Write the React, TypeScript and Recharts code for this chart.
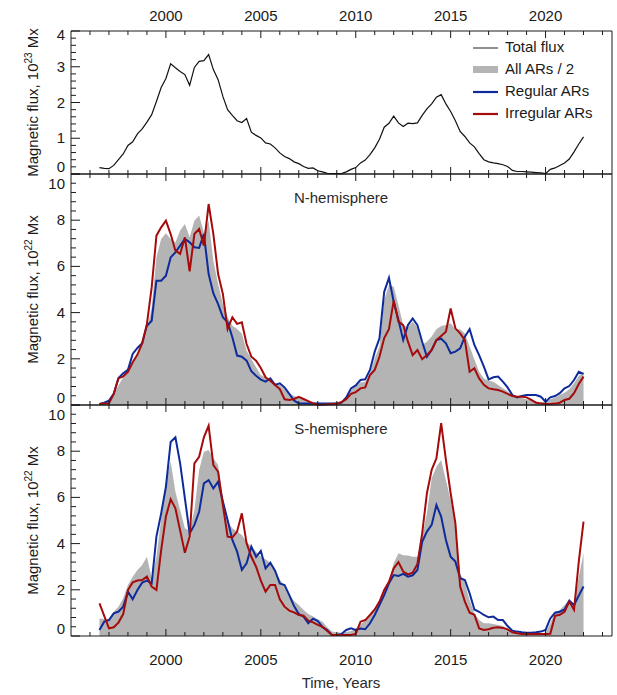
import React from "react";
import { ComposedChart, Line, Area, XAxis, YAxis, Legend } from "recharts";

const FONT = '"Liberation Sans", Arial, Helvetica, sans-serif';
const INK = "#1a1a1a";
const BLUE = "#0d2b9b";
const RED = "#a50b0b";
const GRAY = "#b4b4b4";

// all series sampled quarterly, 1996.5 .. 2022.0 (103 points)
const START_YEAR = 1996.5;
const STEP = 0.25;

// top panel, 10^23 Mx
const totalFlux = [
  0.18, 0.16, 0.15, 0.24, 0.40, 0.56,
  0.80, 0.90, 1.12, 1.26, 1.45, 1.66, 2.03, 2.42,
  2.67, 3.08, 2.97, 2.87, 2.78, 2.48, 2.98, 3.15,
  3.17, 3.34, 2.92, 2.64, 2.17, 1.80, 1.64, 1.49,
  1.44, 1.55, 1.17, 1.08, 1.01, 0.87, 0.84, 0.73,
  0.59, 0.49, 0.43, 0.34, 0.29, 0.21, 0.16, 0.17,
  0.09, 0.06, 0.02, 0.01, 0.01, 0.01, 0.06, 0.13,
  0.18, 0.31, 0.39, 0.54, 0.73, 0.97, 1.31, 1.42,
  1.62, 1.43, 1.33, 1.42, 1.41, 1.43, 1.64, 1.82,
  1.96, 2.15, 2.22, 1.96, 1.75, 1.49, 1.19, 1.05,
  0.87, 0.76, 0.57, 0.40, 0.34, 0.31, 0.29, 0.26,
  0.21, 0.10, 0.07, 0.07, 0.06, 0.05, 0.04, 0.03,
  0.01, 0.13, 0.17, 0.24, 0.31, 0.42, 0.62, 0.84,
  1.04,
];

// N-hemisphere, 10^22 Mx
const northAll = [
  0.04, 0.07, 0.14, 0.48, 0.84, 1.20,
  1.41, 1.85, 2.21, 2.57, 3.22, 4.23, 6.39, 7.19,
  7.43, 7.19, 7.04, 7.55, 7.84, 7.26, 7.98, 8.20,
  7.47, 7.98, 6.25, 5.24, 4.37, 3.80, 3.43, 3.29,
  3.10, 2.35, 1.99, 1.63, 1.30, 1.20, 1.08, 0.94,
  0.87, 0.68, 0.51, 0.39, 0.33, 0.25, 0.17, 0.13,
  0.10, 0.09, 0.07, 0.07, 0.07, 0.13, 0.33, 0.65,
  0.82, 0.97, 1.01, 1.37, 2.02, 2.53, 4.55, 5.19,
  5.12, 4.33, 3.46, 3.36, 3.61, 3.36, 2.60, 2.74,
  2.96, 3.28, 3.42, 3.46, 3.54, 3.28, 3.28, 3.10,
  2.53, 1.98, 1.44, 1.15, 1.05, 1.01, 0.87, 0.72,
  0.58, 0.43, 0.36, 0.30, 0.25, 0.22, 0.16, 0.12,
  0.13, 0.25, 0.33, 0.43, 0.53, 0.68, 0.94, 1.26,
  1.44,
];

const northRegular = [
  0.04, 0.10, 0.19, 0.48, 1.17, 1.37,
  1.52, 2.21, 2.47, 2.67, 3.43, 3.65, 5.38, 5.38,
  5.60, 6.39, 6.61, 6.90, 7.19, 7.04, 6.83, 6.80,
  7.40, 5.67, 4.83, 4.37, 3.80, 3.58, 2.93, 2.14,
  2.09, 1.92, 1.46, 1.27, 1.10, 1.01, 1.15, 0.87,
  0.94, 0.76, 0.48, 0.19, 0.07, 0.07, 0.06, 0.06,
  0.06, 0.07, 0.07, 0.07, 0.06, 0.10, 0.33, 0.72,
  0.85, 1.08, 1.11, 1.52, 2.31, 2.89, 4.90, 5.50,
  4.47, 3.68, 2.81, 3.46, 3.75, 3.46, 2.74, 2.09,
  2.38, 2.81, 2.87, 2.67, 2.24, 2.31, 2.45, 2.96,
  3.28, 2.60, 2.16, 1.66, 1.11, 1.20, 1.23, 1.01,
  0.76, 0.43, 0.33, 0.39, 0.43, 0.43, 0.43, 0.36,
  0.14, 0.33, 0.39, 0.51, 0.72, 0.82, 1.08, 1.44,
  1.35,
];

const northIrregular = [
  0.04, 0.06, 0.07, 0.48, 1.15, 1.24,
  1.43, 1.85, 2.18, 2.67, 3.51, 5.09, 7.33, 7.69,
  7.98, 7.40, 6.68, 6.54, 7.26, 5.79, 7.40, 7.62,
  6.90, 8.70, 7.40, 5.67, 4.81, 3.29, 3.80, 3.51,
  3.58, 2.64, 2.09, 1.92, 1.60, 1.20, 1.05, 0.87,
  0.69, 0.25, 0.22, 0.26, 0.35, 0.26, 0.17, 0.07,
  0.01, 0.01, 0.03, 0.04, 0.06, 0.13, 0.25, 0.48,
  0.56, 0.72, 0.76, 1.30, 1.52, 2.09, 2.90, 3.28,
  4.52, 3.61, 3.46, 2.74, 2.16, 2.38, 1.98, 2.16,
  2.38, 2.81, 2.99, 3.17, 4.18, 3.32, 3.10, 2.81,
  1.44, 1.59, 1.15, 0.87, 0.72, 0.68, 0.65, 0.58,
  0.48, 0.39, 0.36, 0.36, 0.33, 0.22, 0.10, 0.07,
  0.04, 0.04, 0.06, 0.10, 0.22, 0.27, 0.51, 0.91,
  1.23,
];

// S-hemisphere, 10^22 Mx
const southAll = [
  0.76, 0.74, 0.72, 1.05, 1.27, 1.63,
  2.21, 2.57, 2.86, 3.07, 3.43, 2.50, 3.43, 5.09,
  6.68, 7.55, 6.25, 5.45, 4.66, 4.56, 5.45, 7.19,
  7.98, 8.05, 7.69, 7.40, 6.03, 4.95, 4.66, 4.52,
  4.37, 4.08, 3.87, 3.65, 3.43, 3.32, 3.17, 2.79,
  2.45, 2.14, 1.77, 1.52, 1.34, 1.13, 0.95, 0.84,
  0.72, 0.62, 0.38, 0.20, 0.16, 0.14, 0.17, 0.22,
  0.32, 0.51, 0.66, 0.84, 1.13, 1.49, 1.92, 2.35,
  3.15, 3.58, 3.50, 3.48, 3.43, 3.43, 4.30, 5.31,
  6.83, 7.33, 7.62, 6.75, 5.89, 4.81, 2.71, 2.28,
  1.56, 0.98, 0.69, 0.55, 0.55, 0.52, 0.48, 0.43,
  0.33, 0.19, 0.14, 0.12, 0.12, 0.12, 0.12, 0.12,
  0.14, 0.55, 1.05, 1.13, 1.34, 1.56, 1.27, 2.57,
  3.58,
];

const southRegular = [
  0.26, 0.62, 0.69, 0.98, 1.05, 1.27,
  1.92, 1.59, 1.99, 2.31, 2.40, 2.28, 4.30, 5.31,
  6.46, 8.40, 8.60, 7.47, 5.96, 4.44, 4.81, 5.38,
  6.61, 6.75, 6.39, 6.68, 5.82, 5.02, 4.16, 3.65,
  2.86, 3.15, 3.87, 3.43, 3.68, 2.93, 3.17, 2.83,
  2.28, 2.21, 1.77, 1.30, 0.95, 0.84, 0.55, 0.75,
  0.65, 0.38, 0.26, 0.04, 0.04, 0.09, 0.26, 0.33,
  0.26, 0.32, 0.29, 0.55, 0.91, 1.34, 1.77, 2.28,
  2.64, 2.60, 2.69, 2.57, 2.63, 2.86, 4.08, 4.52,
  4.81, 5.67, 5.17, 4.16, 3.43, 3.22, 2.50, 2.42,
  1.85, 1.15, 1.05, 0.91, 0.81, 0.84, 0.69, 0.69,
  0.43, 0.23, 0.19, 0.16, 0.14, 0.14, 0.16, 0.19,
  0.26, 0.76, 1.01, 1.05, 1.15, 1.53, 1.34, 1.75,
  2.14,
];

const southIrregular = [
  1.41, 0.87, 0.33, 0.38, 0.58, 0.95,
  1.99, 2.32, 2.40, 2.42, 2.57, 2.14, 1.99, 3.72,
  5.17, 5.92, 5.53, 4.56, 3.60, 4.30, 7.47, 7.76,
  8.60, 9.10, 7.40, 7.11, 5.67, 4.30, 4.27, 4.52,
  5.31, 4.01, 3.43, 3.00, 2.40, 1.92, 2.21, 2.21,
  1.59, 1.27, 1.10, 1.02, 0.91, 0.88, 0.66, 0.59,
  0.48, 0.40, 0.22, 0.04, 0.04, 0.04, 0.04, 0.04,
  0.09, 0.62, 0.69, 0.91, 1.15, 1.49, 1.99, 2.35,
  2.93, 3.20, 2.79, 2.67, 2.74, 3.12, 4.44, 6.18,
  7.19, 7.69, 9.21, 7.62, 6.18, 4.88, 2.14, 1.49,
  1.01, 0.92, 0.33, 0.26, 0.29, 0.36, 0.38, 0.35,
  0.29, 0.16, 0.12, 0.09, 0.09, 0.09, 0.09, 0.09,
  0.09, 0.10, 0.87, 0.92, 1.05, 1.49, 1.13, 3.22,
  4.95,
];

const years = totalFlux.map((_, i) => START_YEAR + i * STEP);

const rows = years.map((t, i) => ({
  t,
  total: totalFlux[i],
  nAll: northAll[i],
  nReg: northRegular[i],
  nIrr: northIrregular[i],
  sAll: southAll[i],
  sReg: southRegular[i],
  sIrr: southIrregular[i],
}));

const yearTicks = Array.from({ length: 28 }, (_, i) => 1996 + i);
const topTicks = Array.from({ length: 21 }, (_, i) => i / 5);
const hemiTicks = Array.from({ length: 26 }, (_, i) => (i * 2) / 5);

const legendItems = [
  { label: "Total flux", kind: "thin", color: "#444444" },
  { label: "All ARs / 2", kind: "band", color: GRAY },
  { label: "Regular ARs", kind: "line", color: BLUE },
  { label: "Irregular ARs", kind: "line", color: RED },
];

const W = 617;
const H = 695;
const LEFT = 71;
const RIGHT = 612;
const X_DOMAIN: [number, number] = [1995, 2023.5];

function XTick(props: any) {
  const { x, y, payload, side, labels } = props;
  const v = payload.value;
  const major = v % 5 === 0;
  const dir = side === "top" ? 1 : -1;
  const len = major ? 7 : 4;
  return (
    <g>
      <line x1={x} x2={x} y1={y} y2={y + dir * len} stroke={INK} strokeWidth={1} />
      {labels && major && (
        <text
          x={x}
          y={side === "top" ? y - 10 : y + 29}
          textAnchor="middle"
          fontFamily={FONT}
          fontSize={15}
          fill={INK}
        >
          {v}
        </text>
      )}
    </g>
  );
}

function YTick(props: any) {
  const { x, y, payload, side, labels, majorStep, maxValue, maxShift } = props;
  const v = payload.value;
  const isMajor = Math.abs(v / majorStep - Math.round(v / majorStep)) < 1e-6;
  const dir = side === "left" ? 1 : -1;
  const len = isMajor ? 9 : 5;
  // end labels are pulled inside the panel, as in the original plot
  let dy = 5;
  if (v > maxValue - 1e-6) dy += maxShift;
  else if (v < 1e-6) dy -= 7;
  return (
    <g>
      <line x1={x} x2={x + dir * len} y1={y} y2={y} stroke={INK} strokeWidth={1} />
      {labels && isMajor && (
        <text x={x - 6} y={y + dy} textAnchor="end" fontFamily={FONT} fontSize={15} fill={INK}>
          {Math.round(v)}
        </text>
      )}
    </g>
  );
}

function FluxTitle({ exponent, centerY }: { exponent: string; centerY: number }) {
  return (
    <text
      transform={`translate(38, ${centerY}) rotate(-90)`}
      textAnchor="middle"
      fontFamily={FONT}
      fontSize={15}
      fill={INK}
    >
      Magnetic flux, 10
      <tspan dy={-6} fontSize={10}>
        {exponent}
      </tspan>
      <tspan dy={6}> Mx</tspan>
    </text>
  );
}

function PlainText({ text, px, py }: { text: string; px: number; py: number }) {
  return (
    <text x={px} y={py} textAnchor="middle" fontFamily={FONT} fontSize={15} fill="#2a2a2a">
      {text}
    </text>
  );
}

function LegendBox() {
  return (
    <div style={{ fontFamily: FONT, fontSize: 15, color: INK, lineHeight: "22px" }}>
      {legendItems.map((item) => (
        <div key={item.label} style={{ display: "flex", alignItems: "center", height: 22 }}>
          <svg width={25} height={22} style={{ display: "block" }}>
            {item.kind === "band" ? (
              <rect x={0} y={8} width={25} height={7} fill={item.color} />
            ) : (
              <line
                x1={0}
                x2={25}
                y1={12}
                y2={12}
                stroke={item.color}
                strokeWidth={item.kind === "thin" ? 1.2 : 2.2}
              />
            )}
          </svg>
          <span style={{ marginLeft: 7, whiteSpace: "nowrap" }}>{item.label}</span>
        </div>
      ))}
    </div>
  );
}

type PanelProps = {
  top: number;
  bottom: number;
  yMax: number;
  yTicks: number[];
  majorStep: number;
  maxShift: number;
  topLabels: boolean;
  bottomLabels: boolean;
  exponent: string;
  topLabel?: React.ReactElement;
  bottomLabel?: React.ReactElement;
  children: React.ReactNode;
};

function Panel(p: PanelProps) {
  const centerY = (p.top + p.bottom) / 2;
  return (
    <div style={{ position: "absolute", left: 0, top: 0 }}>
      <ComposedChart
        width={W}
        height={H}
        data={rows}
        margin={{ top: p.top - 1, right: 0, bottom: H - p.bottom - 1, left: 0 }}
      >
        <XAxis
          xAxisId="b"
          dataKey="t"
          type="number"
          domain={X_DOMAIN}
          allowDataOverflow
          ticks={yearTicks}
          interval={0}
          height={1}
          tickSize={0}
          tickMargin={0}
          tickLine={false}
          axisLine={{ stroke: INK }}
          tick={(tp: any) => <XTick {...tp} side="bottom" labels={p.bottomLabels} />}
          label={p.bottomLabel}
        />
        <XAxis
          xAxisId="tp"
          orientation="top"
          dataKey="t"
          type="number"
          domain={X_DOMAIN}
          allowDataOverflow
          ticks={yearTicks}
          interval={0}
          height={1}
          tickSize={0}
          tickMargin={0}
          tickLine={false}
          axisLine={{ stroke: INK }}
          tick={(tp: any) => <XTick {...tp} side="top" labels={p.topLabels} />}
          label={p.topLabel}
        />
        <YAxis
          yAxisId="l"
          type="number"
          domain={[0, p.yMax]}
          ticks={p.yTicks}
          interval={0}
          width={LEFT}
          tickSize={0}
          tickMargin={0}
          tickLine={false}
          axisLine={{ stroke: INK }}
          tick={(tp: any) => (
            <YTick
              {...tp}
              side="left"
              labels
              majorStep={p.majorStep}
              maxValue={p.yMax}
              maxShift={p.maxShift}
            />
          )}
          label={<FluxTitle exponent={p.exponent} centerY={centerY} />}
        />
        <YAxis
          yAxisId="r"
          orientation="right"
          type="number"
          domain={[0, p.yMax]}
          ticks={p.yTicks}
          interval={0}
          width={W - RIGHT}
          tickSize={0}
          tickMargin={0}
          tickLine={false}
          axisLine={{ stroke: INK }}
          tick={(tp: any) => (
            <YTick
              {...tp}
              side="right"
              labels={false}
              majorStep={p.majorStep}
              maxValue={p.yMax}
              maxShift={p.maxShift}
            />
          )}
        />
        {p.children}
      </ComposedChart>
    </div>
  );
}

export default function App() {
  return (
    <div
      style={{
        position: "absolute",
        left: 0,
        top: 0,
        width: W,
        height: H,
        background: "#fff",
        overflow: "hidden",
      }}
    >
      <Panel
        top={31}
        bottom={174}
        yMax={4}
        yTicks={topTicks}
        majorStep={1}
        maxShift={4}
        topLabels
        bottomLabels={false}
        exponent="23"
      >
        <Line
          xAxisId="b"
          yAxisId="l"
          dataKey="total"
          name="Total flux"
          type="linear"
          stroke="#111"
          strokeWidth={1.2}
          dot={false}
          activeDot={false}
          isAnimationActive={false}
        />
        <Legend
          layout="vertical"
          verticalAlign="middle"
          align="center"
          wrapperStyle={{ left: 473, top: 36, width: 140 }}
          content={() => <LegendBox />}
        />
      </Panel>
      <Panel
        top={174}
        bottom={405}
        yMax={10}
        yTicks={hemiTicks}
        majorStep={2}
        maxShift={10}
        topLabels={false}
        bottomLabels={false}
        exponent="22"
        topLabel={<PlainText text="N-hemisphere" px={341} py={203} />}
      >
        <Area
          xAxisId="b"
          yAxisId="l"
          dataKey="nAll"
          type="linear"
          fill={GRAY}
          fillOpacity={1}
          stroke="none"
          isAnimationActive={false}
        />
        <Line
          xAxisId="b"
          yAxisId="l"
          dataKey="nReg"
          type="linear"
          stroke={BLUE}
          strokeWidth={2}
          dot={false}
          activeDot={false}
          isAnimationActive={false}
        />
        <Line
          xAxisId="b"
          yAxisId="l"
          dataKey="nIrr"
          type="linear"
          stroke={RED}
          strokeWidth={2}
          dot={false}
          activeDot={false}
          isAnimationActive={false}
        />
      </Panel>
      <Panel
        top={405}
        bottom={636}
        yMax={10}
        yTicks={hemiTicks}
        majorStep={2}
        maxShift={10}
        topLabels={false}
        bottomLabels
        exponent="22"
        topLabel={<PlainText text="S-hemisphere" px={341} py={434} />}
        bottomLabel={<PlainText text="Time, Years" px={341} py={688} />}
      >
        <Area
          xAxisId="b"
          yAxisId="l"
          dataKey="sAll"
          type="linear"
          fill={GRAY}
          fillOpacity={1}
          stroke="none"
          isAnimationActive={false}
        />
        <Line
          xAxisId="b"
          yAxisId="l"
          dataKey="sReg"
          type="linear"
          stroke={BLUE}
          strokeWidth={2}
          dot={false}
          activeDot={false}
          isAnimationActive={false}
        />
        <Line
          xAxisId="b"
          yAxisId="l"
          dataKey="sIrr"
          type="linear"
          stroke={RED}
          strokeWidth={2}
          dot={false}
          activeDot={false}
          isAnimationActive={false}
        />
      </Panel>
    </div>
  );
}
